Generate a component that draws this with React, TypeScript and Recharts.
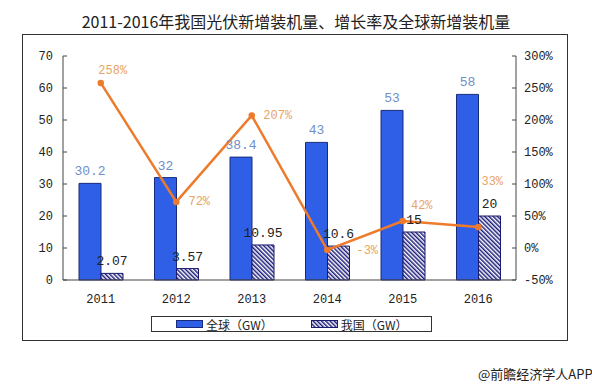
import React from 'react';
import { ComposedChart, Bar, Line, XAxis, YAxis, LabelList, Legend } from 'recharts';

const years = ['2011', '2012', '2013', '2014', '2015', '2016'];
const globalGW = [30.2, 32, 38.4, 43, 53, 58];
const chinaGW = [2.07, 3.57, 10.95, 10.6, 15, 20];
const growthPct = [258, 72, 207, -3, 42, 33];

const leftTicks = [0, 10, 20, 30, 40, 50, 60, 70];
const rightTicks = [-50, 0, 50, 100, 150, 200, 250, 300];

// where each growth label sits relative to its point
const pctLabelShift = [
  { dx: 12, dy: -12 },
  { dx: 23, dy: 0 },
  { dx: 26, dy: 0 },
  { dx: 40, dy: 1 },
  { dx: 19, dy: -15 },
  { dx: 14, dy: -45 },
];

const data = years.map((y, i) => ({
  year: y,
  global: globalGW[i],
  china: chinaGW[i],
  growth: growthPct[i],
}));

const monoFont = '"Liberation Mono", "DejaVu Sans Mono", monospace';
const cjkFont = '"Noto Sans CJK SC", "Noto Sans", sans-serif';
const blue = '#2f5fe6';
const orange = '#ee7b2c';

const PctLabel = (props: any) => {
  const { x, y, index, value } = props;
  const s = pctLabelShift[index] || { dx: 0, dy: 0 };
  return (
    <text
      x={x + s.dx}
      y={y + s.dy}
      textAnchor="middle"
      dominantBaseline="central"
      fontFamily={monoFont}
      fontSize={12}
      fill="#e8a466"
    >
      {value}%
    </text>
  );
};

const LegendBox = () => (
  <div
    style={{
      width: 281,
      height: 16,
      border: '1px solid #333',
      boxSizing: 'border-box',
      display: 'flex',
      alignItems: 'center',
      fontFamily: cjkFont,
      fontSize: 12,
      color: '#222',
    }}
  >
    <svg width={27} height={8} style={{ marginLeft: 24 }}>
      <rect x={0.5} y={0.5} width={26} height={7} fill={blue} stroke="#1a2a7a" />
    </svg>
    <span style={{ marginLeft: 3 }}>全球（GW）</span>
    <svg width={27} height={8} style={{ marginLeft: 38 }}>
      <rect x={0.5} y={0.5} width={26} height={7} fill="url(#stripes)" stroke="#1a1a6e" />
    </svg>
    <span style={{ marginLeft: 3 }}>我国（GW）</span>
  </div>
);

export default function App() {
  return (
    <div style={{ position: 'absolute', left: 0, top: 0, width: 592, height: 384, background: '#fff' }}>
      <div
        style={{
          position: 'absolute',
          left: 0,
          top: 9,
          width: 592,
          textAlign: 'center',
          fontFamily: cjkFont,
          fontSize: 16,
          color: '#222',
        }}
      >
        2011-2016年我国光伏新增装机量、增长率及全球新增装机量
      </div>
      <div
        style={{
          position: 'absolute',
          left: 22,
          top: 34,
          width: 546,
          height: 307,
          border: '1px solid #333',
          boxSizing: 'border-box',
        }}
      />
      <div style={{ position: 'absolute', left: 0, top: 0 }}>
        <ComposedChart
          width={592}
          height={384}
          data={data}
          barGap={0}
          barCategoryGap={16}
          margin={{ top: 56, right: 31, bottom: 68, left: 23 }}
        >
          <defs>
            <pattern
              id="stripes"
              patternUnits="userSpaceOnUse"
              width={3}
              height={3}
              patternTransform="rotate(-45)"
            >
              <rect x={0} y={0} width={3} height={3} fill="#ffffff" />
              <rect x={0} y={0} width={1.5} height={3} fill="#1c1c7a" />
            </pattern>
          </defs>
          <XAxis
            dataKey="year"
            height={20}
            tickLine={false}
            axisLine={{ stroke: '#444' }}
            tick={{ fill: '#222', fontSize: 12, fontFamily: monoFont }}
            tickMargin={8}
          />
          <YAxis
            yAxisId="left"
            orientation="left"
            width={40}
            domain={[0, 70]}
            ticks={leftTicks}
            interval={0}
            axisLine={{ stroke: '#444' }}
            tickLine={{ stroke: '#444' }}
            tickSize={-4}
            tickMargin={14}
            tick={{ fill: '#222', fontSize: 12, fontFamily: monoFont }}
          />
          <YAxis
            yAxisId="right"
            orientation="right"
            width={45}
            domain={[-50, 300]}
            ticks={rightTicks}
            interval={0}
            tickFormatter={(v: number) => `${v}%`}
            axisLine={{ stroke: '#444' }}
            tickLine={{ stroke: '#444' }}
            tickSize={-4}
            tickMargin={12}
            tick={{ fill: '#222', fontSize: 12, fontFamily: monoFont }}
          />
          <Legend
            verticalAlign="bottom"
            content={() => <LegendBox />}
            wrapperStyle={{ position: 'absolute', left: 151, top: 316, width: 281, height: 16, bottom: 'auto' }}
          />
          <Bar
            yAxisId="left"
            dataKey="global"
            name="全球（GW）"
            fill={blue}
            stroke="#1a2a7a"
            strokeWidth={1}
            barSize={22}
            isAnimationActive={false}
          >
            <LabelList
              dataKey="global"
              position="top"
              offset={8}
              fill="#6f8fc6"
              fontSize={13}
              fontFamily={monoFont}
            />
          </Bar>
          <Bar
            yAxisId="left"
            dataKey="china"
            name="我国（GW）"
            fill="url(#stripes)"
            stroke="#1a1a6e"
            strokeWidth={1}
            barSize={22}
            isAnimationActive={false}
          >
            <LabelList
              dataKey="china"
              position="top"
              offset={8}
              fill="#222"
              fontSize={13}
              fontFamily={monoFont}
            />
          </Bar>
          <Line
            yAxisId="right"
            dataKey="growth"
            stroke={orange}
            strokeWidth={2.5}
            dot={{ r: 2, fill: orange, stroke: orange }}
            isAnimationActive={false}
          >
            <LabelList dataKey="growth" content={<PctLabel />} />
          </Line>
        </ComposedChart>
      </div>
      <div
        style={{
          position: 'absolute',
          left: 478,
          top: 364,
          fontFamily: cjkFont,
          fontSize: 13,
          color: '#222',
          whiteSpace: 'nowrap',
        }}
      >
        @前瞻经济学人APP
      </div>
    </div>
  );
}
